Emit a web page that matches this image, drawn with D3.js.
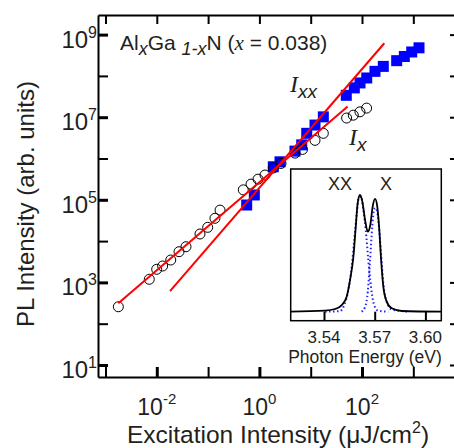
<!DOCTYPE html>
<html>
<head>
<meta charset="utf-8">
<script src="https://cdn.jsdelivr.net/npm/d3@7"></script>
<style>
body { margin: 0; background: #fff; }
text { font-family: "Liberation Sans", Arial, sans-serif; fill: #231f20; }
</style>
</head>
<body>
<svg id="chart" width="454" height="448"></svg>
<script>
// exciton (I_x) -- open circles
var xExc = [0.00178, 0.00714, 0.00995, 0.0130, 0.0187, 0.0271, 0.0371, 0.0695, 0.0982, 0.136, 0.171,
            0.485, 0.686, 0.940, 1.285, 1.866, 2.636, 4.94, 6.92, 12.13, 17.62, 50.1, 67.6, 91.2, 123.0]
var xPL = [257, 1189, 2075, 2495, 3483, 5534, 7311, 14860, 21530, 35650, 56230,
           1.74e5, 2.40e5, 3.16e5, 3.98e5, 5.89e5, 7.59e5, 1.35e6, 1.66e6, 2.75e6, 4.07e6, 9.55e6, 1.12e7, 1.35e7, 1.66e7]

// biexciton (I_xx) -- blue squares
var xxExc = [0.565, 0.796, 1.866, 2.52, 4.94, 6.68, 8.36, 12.13, 17.62, 49.4, 70.8, 91.4, 123.6, 179, 260, 474, 668, 931, 1291]
var xxPL = [7.48e4, 1.31e5, 6.31e5, 8.32e5, 1.51e6, 2.14e6, 4.07e6, 6.46e6, 1.02e7, 3.39e7, 5.13e7, 6.76e7,
            8.91e7, 1.29e8, 1.70e8, 2.34e8, 2.95e8, 3.80e8, 4.79e8]

// power-law fits (end points)
var fitXExc = [0.00178, 52.5]
var fitXPL = [312, 1.82e7]
var fitXXExc = [0.0181, 272]
var fitXXPL = [617, 6.17e8]

// tick values
var xDecades = [1e-3, 1e-2, 1e-1, 1, 1e1, 1e2, 1e3]
var xLabels = [[1e-2, "-2"], [1, "0"], [1e2, "2"]]
var yDecades = [1e1, 1e2, 1e3, 1e4, 1e5, 1e6, 1e7, 1e8, 1e9]
var yLabels = [[1e1, "1"], [1e3, "3"], [1e5, "5"], [1e7, "7"], [1e9, "9"]]

// inset spectrum
var specE = [3.5199, 3.5406, 3.5465, 3.5505, 3.5534, 3.5554, 3.5574, 3.5588, 3.5599, 3.5613, 3.5627, 3.5643,
             3.5659, 3.5674, 3.5688, 3.5702, 3.5714, 3.5726, 3.5738, 3.5751, 3.5771, 3.5801, 3.586, 3.6099]
var specI = [0.0, 0.009, 0.023, 0.057, 0.129, 0.271, 0.471, 0.728, 0.928, 1.0, 0.943, 0.786,
             0.686, 0.743, 0.9, 0.966, 0.914, 0.728, 0.443, 0.214, 0.086, 0.029, 0.006, 0.0]
var compXXE = [3.5406, 3.5495, 3.552, 3.5544, 3.5564, 3.5579, 3.5594, 3.5607, 3.5619, 3.5633, 3.5647,
               3.5662, 3.5678, 3.5694, 3.572, 3.578]
var compXXI = [0.0, 0.006, 0.057, 0.186, 0.386, 0.614, 0.843, 0.98, 0.986, 0.871, 0.7,
               0.443, 0.214, 0.071, 0.009, 0.0]
var compXE = [3.5623, 3.5643, 3.5659, 3.5672, 3.5686, 3.5697, 3.5708, 3.5721, 3.5736, 3.5751, 3.5771,
              3.5801, 3.59]
var compXI = [0.0, 0.04, 0.17, 0.43, 0.74, 0.88, 0.886, 0.79, 0.53, 0.243, 0.086, 0.02, 0.0]
var insetTicks = [3.54, 3.57, 3.60]

var svg = d3.select("#chart")

var x = d3.scaleLog().domain([Math.pow(10, -3.146), Math.pow(10, 3.91)]).range([98, 460])
var y = d3.scaleLog().domain([Math.pow(10, 0.709), Math.pow(10, 9.475)]).range([377, 15])

// frame + ticks
function styleAxis(g, major) {
  g.select(".domain").attr("stroke", "#000").attr("stroke-width", 2)
  g.selectAll(".tick line").attr("stroke", "#000")
    .attr("stroke-width", function(d) { return major.indexOf(d) >= 0 ? 3 : 2 })
}
var xMaj = xLabels.map(function(d) { return d[0] })
var yMaj = yLabels.map(function(d) { return d[0] })

svg.append("g").attr("transform", "translate(0,377)")
  .call(d3.axisBottom(x).tickValues(xDecades).tickSize(-10).tickSizeOuter(0).tickFormat(""))
  .call(styleAxis, xMaj)
svg.append("g").attr("transform", "translate(0,15)")
  .call(d3.axisTop(x).tickValues(xDecades).tickSize(-9).tickSizeOuter(0).tickFormat(""))
  .call(styleAxis, [])
svg.append("g").attr("transform", "translate(98,0)")
  .call(d3.axisLeft(y).tickValues(yDecades).tickSize(-10).tickSizeOuter(0).tickFormat(""))
  .call(styleAxis, yMaj)
svg.append("g").attr("transform", "translate(460,0)")
  .call(d3.axisRight(y).tickValues(yDecades).tickSize(-10).tickSizeOuter(0).tickFormat(""))
  .call(styleAxis, [])

// tick labels
yLabels.forEach(function(d) {
  var t = svg.append("text").attr("x", 97).attr("y", y(d[0]) + 13)
    .attr("text-anchor", "end").style("font-size", "24px")
  t.append("tspan").text("10")
  t.append("tspan").attr("dy", -10).style("font-size", "16px").text(d[1])
})
xLabels.forEach(function(d) {
  var t = svg.append("text").attr("x", x(d[0])).attr("y", 415)
    .attr("text-anchor", "middle").style("font-size", "23px")
  t.append("tspan").text("10")
  t.append("tspan").attr("dy", -11).style("font-size", "15px").text(d[1])
})

// axis titles
svg.append("text").attr("transform", "translate(34,204) rotate(-90)")
  .attr("text-anchor", "middle").style("font-size", "24px")
  .text("PL Intensity (arb. units)")
var xt = svg.append("text").attr("x", 278).attr("y", 443)
  .attr("text-anchor", "middle").style("font-size", "24.5px")
xt.append("tspan").text("Excitation Intensity (\u03bcJ/cm")
xt.append("tspan").attr("dy", -10).style("font-size", "16px").text("2")
xt.append("tspan").attr("dy", 10).text(")")

// sample label
var tl = svg.append("text").attr("x", 120).attr("y", 50).style("font-size", "21px")
tl.append("tspan").text("Al")
tl.append("tspan").attr("dy", 5).style("font-size", "18px").style("font-style", "italic").text("x")
tl.append("tspan").attr("dy", -5).text("Ga ")
tl.append("tspan").attr("dy", 5).style("font-size", "18px").style("font-style", "italic").text("1-x")
tl.append("tspan").attr("dy", -5).text("N (")
tl.append("tspan").style("font-family", "Liberation Serif").style("font-style", "italic").text("x")
tl.append("tspan").text(" = 0.038)")

// data
svg.append("g").selectAll("rect").data(xxExc).enter().append("rect")
  .attr("x", function(d) { return x(d) - 5.5 })
  .attr("y", function(d, i) { return y(xxPL[i]) - 5.5 })
  .attr("width", 11).attr("height", 11)
  .attr("fill", "#0000ff")

svg.append("g").selectAll("circle").data(xExc).enter().append("circle")
  .attr("cx", function(d) { return x(d) })
  .attr("cy", function(d, i) { return y(xPL[i]) })
  .attr("r", 5)
  .attr("fill", "#fff").attr("fill-opacity", 0)
  .attr("stroke", "#000").attr("stroke-width", 1)

var fitLine = d3.line().x(function(d) { return x(d[0]) }).y(function(d) { return y(d[1]) })
svg.append("path").datum(d3.zip(fitXExc, fitXPL)).attr("d", fitLine)
  .attr("stroke", "#ff0000").attr("stroke-width", 2).attr("fill", "none")
svg.append("path").datum(d3.zip(fitXXExc, fitXXPL)).attr("d", fitLine)
  .attr("stroke", "#ff0000").attr("stroke-width", 2).attr("fill", "none")

// I_xx and I_x labels
var lxx = svg.append("text").attr("x", 290).attr("y", 92).style("font-size", "24px")
lxx.append("tspan").style("font-family", "Liberation Serif").style("font-style", "italic").text("I")
lxx.append("tspan").attr("dy", 6).style("font-size", "19px").style("font-style", "italic").text("xx")
var lx = svg.append("text").attr("x", 349).attr("y", 145).style("font-size", "24px")
lx.append("tspan").style("font-family", "Liberation Serif").style("font-style", "italic").text("I")
lx.append("tspan").attr("dy", 6).style("font-size", "19px").style("font-style", "italic").text("x")

// inset
var ix = d3.scaleLinear().domain([3.54, 3.60]).range([324, 425.4])
var iy = d3.scaleLinear().domain([0, 1]).range([311.7, 195])
var box = {x0: 290.7, x1: 441.3, y0: 169, y1: 320.7}

svg.append("rect").attr("x", box.x0).attr("y", box.y0)
  .attr("width", box.x1 - box.x0).attr("height", box.y1 - box.y0)
  .attr("fill", "#fff").attr("stroke", "#000").attr("stroke-width", 1.5)

svg.append("clipPath").attr("id", "insetClip").append("rect")
  .attr("x", box.x0).attr("y", box.y0).attr("width", box.x1 - box.x0).attr("height", box.y1 - box.y0)

svg.append("g").attr("transform", "translate(0," + box.y1 + ")")
  .call(d3.axisTop(ix).tickValues(insetTicks).tickSize(9).tickFormat(""))
  .call(function(g) {
    g.select(".domain").remove()
    g.selectAll(".tick line").attr("stroke", "#000").attr("stroke-width", 2)
  })

var specLine = d3.line().curve(d3.curveMonotoneX)
  .x(function(d) { return ix(d[0]) }).y(function(d) { return iy(d[1]) })
var ins = svg.append("g").attr("clip-path", "url(#insetClip)")
ins.append("path").datum(d3.zip(compXXE, compXXI)).attr("d", specLine)
  .attr("fill", "none").attr("stroke", "#2222ff").attr("stroke-width", 2).attr("stroke-dasharray", "1.5,2.5")
ins.append("path").datum(d3.zip(compXE, compXI)).attr("d", specLine)
  .attr("fill", "none").attr("stroke", "#2222ff").attr("stroke-width", 2).attr("stroke-dasharray", "1.5,2.5")
ins.append("path").datum(d3.zip(specE, specI)).attr("d", specLine)
  .attr("fill", "none").attr("stroke", "#000").attr("stroke-width", 1.8)

insetTicks.forEach(function(d) {
  svg.append("text").attr("x", ix(d)).attr("y", 343).attr("text-anchor", "middle")
    .style("font-size", "17px").text(d3.format(".2f")(d))
})
svg.append("text").attr("x", 365).attr("y", 363).attr("text-anchor", "middle")
  .style("font-size", "17.5px").text("Photon Energy (eV)")
svg.append("text").attr("x", 340).attr("y", 190).attr("text-anchor", "middle")
  .style("font-size", "18px").text("XX")
svg.append("text").attr("x", 386).attr("y", 190).attr("text-anchor", "middle")
  .style("font-size", "18px").text("X")
</script>
</body>
</html>
